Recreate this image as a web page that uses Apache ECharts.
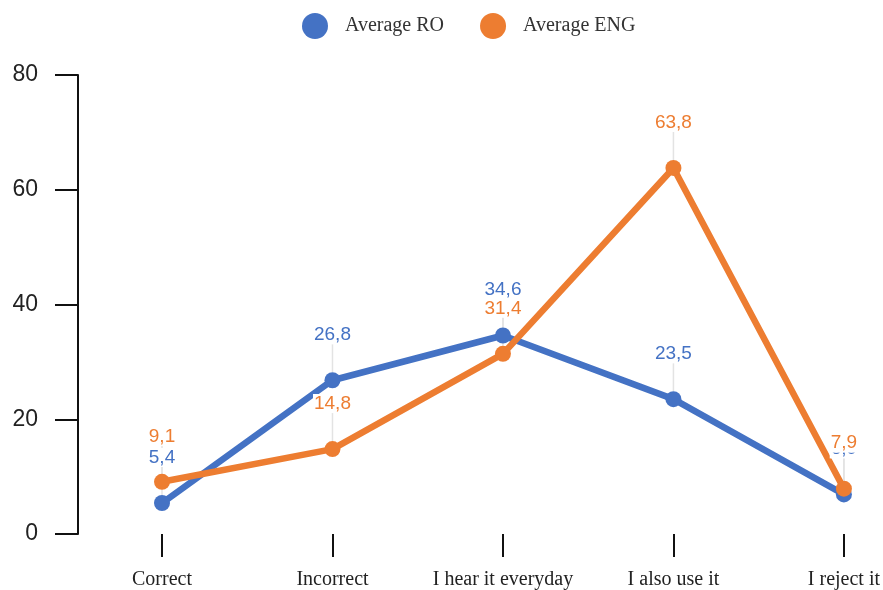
<!DOCTYPE html>
<html>
<head>
<meta charset="utf-8">
<script src="https://cdn.jsdelivr.net/npm/echarts@6/dist/echarts.min.js"></script>
<style>
  html, body { margin: 0; padding: 0; background: #fff; }
  #chart { width: 883px; height: 590px; }
</style>
</head>
<body>
<div id="chart"></div>
<script>
// Answer categories along the x axis
const categories = ['Correct', 'Incorrect', 'I hear it everyday', 'I also use it', 'I reject it'];
// Average share per answer, Romanian and English groups
const averageRO = [5.4, 26.8, 34.6, 23.5, 6.9];
const averageENG = [9.1, 14.8, 31.4, 63.8, 7.9];
// Value axis ticks
const yTicks = [0, 20, 40, 60, 80];

const BLUE = '#4472C4';
const ORANGE = '#ED7D31';

const fmt = p => String(p.value).replace('.', ',');

function makeSeries(name, data, color) {
  return {
    name: name,
    type: 'line',
    data: data,
    symbol: 'circle',
    symbolSize: 16,
    lineStyle: { color: color, width: 6.5 },
    itemStyle: { color: color },
    label: {
      show: true,
      position: 'top',
      distance: 4,
      formatter: fmt,
      color: color,
      backgroundColor: '#fff',
      padding: [0, 1],
      fontFamily: 'Liberation Sans Narrow, Liberation Sans, sans-serif',
      fontSize: 19
    },
    labelLayout: { dy: -24 },
    labelLine: { show: true, lineStyle: { color: '#e3e3e3', width: 1.5 } },
    emphasis: { disabled: true },
    animation: false
  };
}

const chart = echarts.init(document.getElementById('chart'));
chart.setOption({
  backgroundColor: '#fff',
  legend: {
    top: 8,
    left: 297,
    icon: 'circle',
    itemWidth: 26,
    itemHeight: 26,
    itemGap: 36,
    textStyle: { fontFamily: 'Liberation Serif, serif', fontSize: 20, color: '#333', padding: [0, 0, 0, 12] },
    data: ['Average RO', 'Average ENG']
  },
  grid: { left: 162, right: 38, top: 75, bottom: 54 },
  xAxis: {
    type: 'category',
    data: categories,
    boundaryGap: false,
    axisLine: { show: false },
    axisTick: { show: true, interval: 0, alignWithLabel: true, length: 23, lineStyle: { color: '#111', width: 2 } },
    axisLabel: { interval: 0, margin: 36, fontFamily: 'Liberation Serif, serif', fontSize: 20, color: '#222' }
  },
  yAxis: {
    type: 'value',
    min: yTicks[0],
    max: yTicks[yTicks.length - 1],
    interval: 20,
    offset: 84,
    splitLine: { show: false },
    axisLine: { show: true, lineStyle: { color: '#111', width: 2 } },
    axisTick: { show: true, length: 23, lineStyle: { color: '#111', width: 2 } },
    axisLabel: { margin: 40, fontFamily: 'Liberation Sans, sans-serif', fontSize: 23, color: '#222' }
  },
  series: [
    makeSeries('Average RO', averageRO, BLUE),
    makeSeries('Average ENG', averageENG, ORANGE)
  ]
});
</script>
</body>
</html>
